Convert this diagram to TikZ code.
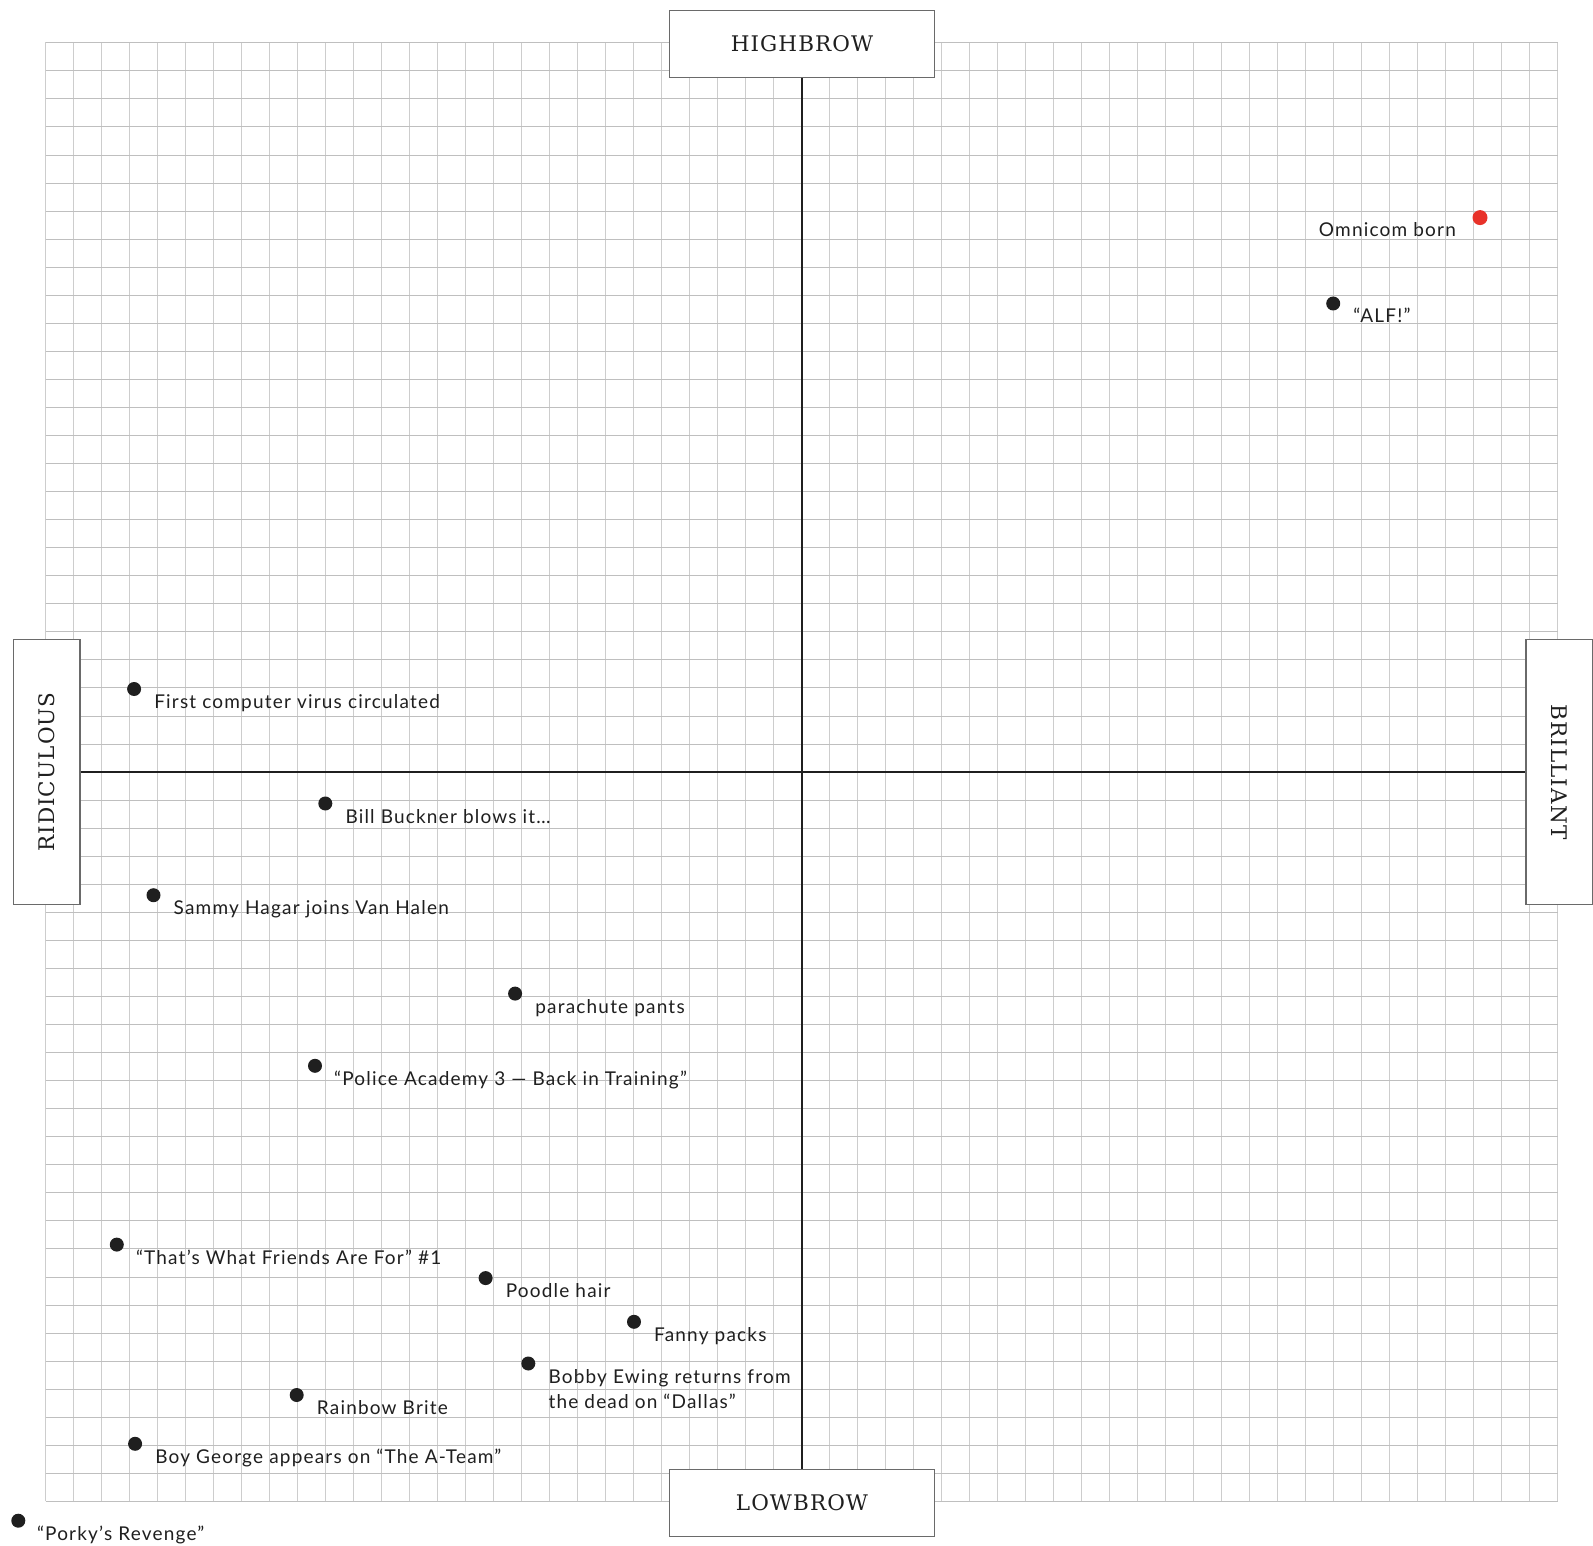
\documentclass[tikz,border=0pt]{standalone}
\usepackage{fontspec}
\newfontfamily\lblfont[LetterSpace=6.3]{Lato}
\newfontfamily\axfont[LetterSpace=5]{DejaVu Serif}
\usetikzlibrary{calc}
\definecolor{gridh}{HTML}{BFBFBF}
\definecolor{gridv}{HTML}{CDCDCD}
\definecolor{ink}{HTML}{1F1F1F}
\definecolor{boxc}{HTML}{6A6A6A}
\definecolor{redc}{HTML}{E8322A}
\tikzset{
  gridlineh/.style={draw=gridh, line width=1.1pt},
  gridlinev/.style={draw=gridv, line width=1.4pt},
  axisline/.style={draw=ink, line width=2.2pt},
  axbox/.style={draw=boxc, line width=1.5pt, fill=white, inner sep=0pt,
    minimum width=264.7pt, minimum height=66.7pt,
    font=\axfont\fontsize{21.5}{26}\selectfont, text=ink},
  dot/.style={circle, fill=ink, inner sep=0pt, minimum size=14pt},
  reddot/.style={dot, fill=redc, minimum size=15pt},
  lbl/.style={anchor=base west, inner sep=0pt, text=ink,
    font=\lblfont\fontsize{19}{25.4}\selectfont},
  lblr/.style={lbl, anchor=base east}
}
\begin{document}
\begin{tikzpicture}[x=1pt,y=-1pt]
\useasboundingbox[fill=white] (0,0) rectangle (1593,1546);
% grid
\foreach \i in {0,...,54}
  \draw[gridlinev] (45.5+28*\i,42.5) -- (45.5+28*\i,1500.5);
\foreach \j in {0,...,52}
  \draw[gridlineh] (45.5,{round(42.3+28.05*\j)+0.5}) -- (1557.5,{round(42.3+28.05*\j)+0.5});
% axis boxes
\node[axbox] (high) at (802,44) {HIGHBROW};
\node[axbox] (low) at (802,1502.9) {LOWBROW};
\node[axbox, rotate=90] (rid) at (46.7,772) {RIDICULOUS};
\node[axbox, rotate=-90] (bril) at (1559.3,772) {BRILLIANT};
% axes
\draw[axisline] (high) -- (low);
\draw[axisline] (rid) -- (bril);
% points
\node[reddot] (p1) at (1480,217.6) {};
\node[lblr] (l1) at ([shift={(-24,18.5)}]p1.center) {Omnicom born};
\node[dot] (p2) at (1333.2,303.5) {};
\node[lbl] (l2) at ([shift={(20,19.5)}]p2.center) {“ALF!”};
\node[dot] (p3) at (134.1,689) {};
\node[lbl] (l3) at ([shift={(20,19.5)}]p3.center) {First computer virus circulated};
\node[dot] (p4) at (325.3,803.5) {};
\node[lbl] (l4) at ([shift={(20,19.5)}]p4.center) {Bill Buckner blows it…};
\node[dot] (p5) at (153.5,895.2) {};
\node[lbl] (l5) at ([shift={(20,19.5)}]p5.center) {Sammy Hagar joins Van Halen};
\node[dot] (p6) at (515.1,993.6) {};
\node[lbl] (l6) at ([shift={(20,19.5)}]p6.center) {parachute pants};
\node[dot] (p7) at (315,1065.8) {};
\node[lbl] (l7) at ([shift={(19,19.5)}]p7.center) {“Police Academy 3 — Back in Training”};
\node[dot] (p8) at (116.8,1244.6) {};
\node[lbl] (l8) at ([shift={(19,19.5)}]p8.center) {“That’s What Friends Are For” \#1};
\node[dot] (p9) at (485.6,1278.1) {};
\node[lbl] (l9) at ([shift={(20,19.5)}]p9.center) {Poodle hair};
\node[dot] (p10) at (634,1321.8) {};
\node[lbl] (l10) at ([shift={(20,19.5)}]p10.center) {Fanny packs};
\node[dot] (p11) at (528.3,1363.5) {};
\node[lbl] (l11) at ([shift={(20,19.8)}]p11.center) {\begin{tabular}[t]{@{}l@{}}Bobby Ewing returns from\\the dead on “Dallas”\end{tabular}};
\node[dot] (p12) at (296.7,1395) {};
\node[lbl] (l12) at ([shift={(20,19.5)}]p12.center) {Rainbow Brite};
\node[dot] (p13) at (135.1,1443.8) {};
\node[lbl] (l13) at ([shift={(20,19.5)}]p13.center) {Boy George appears on “The A-Team”};
\node[dot] (p14) at (18.3,1520.7) {};
\node[lbl] (l14) at ([shift={(18.5,20)}]p14.center) {“Porky’s Revenge”};
\end{tikzpicture}
\end{document}
